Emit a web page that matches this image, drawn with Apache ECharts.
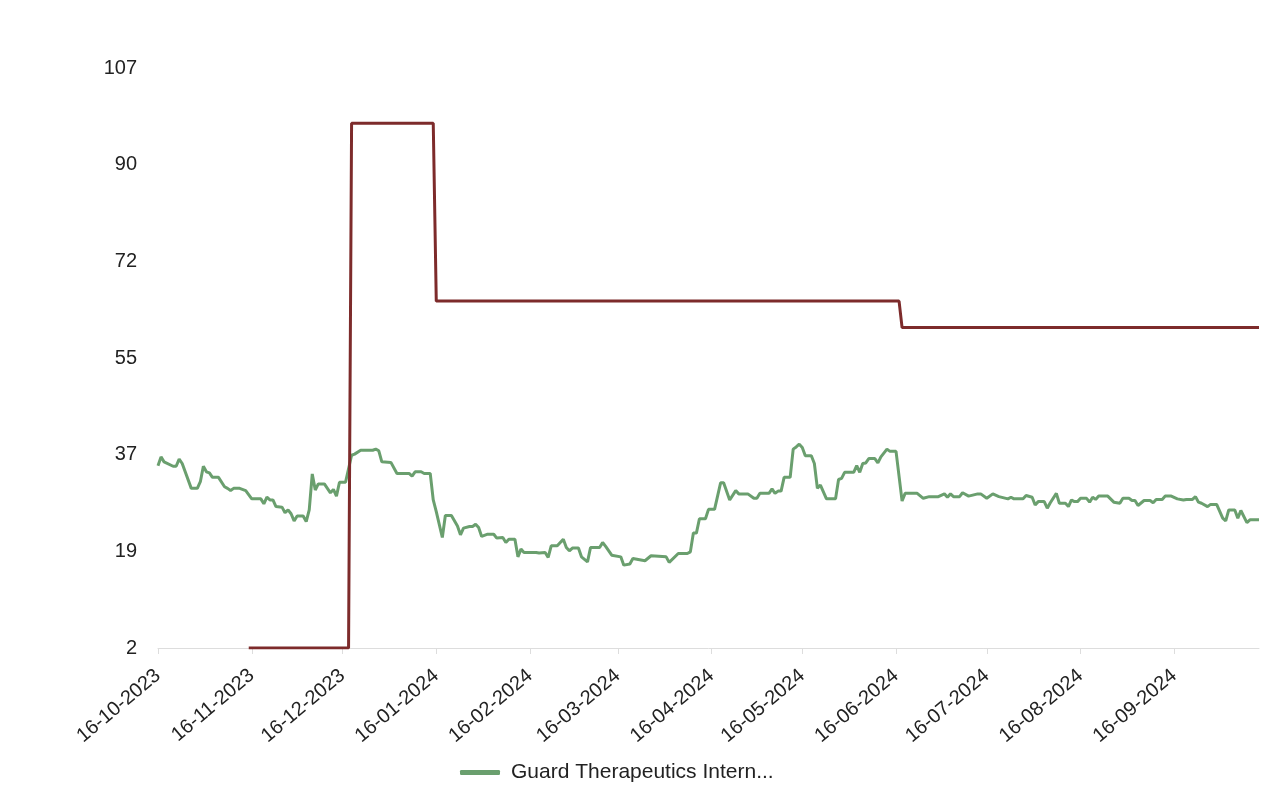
<!DOCTYPE html>
<html>
<head>
<meta charset="utf-8">
<script src="https://cdn.jsdelivr.net/npm/echarts@6/dist/echarts.min.js"></script>
<style>
html,body{margin:0;padding:0;background:#fff;}
#chart{width:1284px;height:789px;}
</style>
</head>
<body>
<div id="chart"></div>
<script>
// ---- data ----
const axisStart = '2023-10-16';
const axisEnd = '2024-10-14';

const yTickValues = [2, 19.5, 37, 54.5, 72, 89.5, 107];
const yTickLabels = ['2', '19', '37', '55', '72', '90', '107'];

const greenName = 'Guard Therapeutics International AB';
const greenDates = [
'2023-10-16','2023-10-17','2023-10-18','2023-10-21','2023-10-22','2023-10-23','2023-10-24','2023-10-27','2023-10-29','2023-10-30',
'2023-10-31','2023-11-01','2023-11-02','2023-11-03','2023-11-05','2023-11-07','2023-11-08','2023-11-09','2023-11-10','2023-11-12',
'2023-11-14','2023-11-16','2023-11-19','2023-11-20','2023-11-21','2023-11-22','2023-11-23','2023-11-24','2023-11-26','2023-11-27',
'2023-11-28','2023-11-29','2023-11-30','2023-12-01','2023-12-03','2023-12-04','2023-12-05','2023-12-06','2023-12-07','2023-12-08',
'2023-12-10','2023-12-12','2023-12-13','2023-12-14','2023-12-15','2023-12-17','2023-12-19','2023-12-20','2023-12-22','2023-12-26',
'2023-12-27','2023-12-28','2023-12-29','2024-01-01','2024-01-03','2024-01-07','2024-01-08','2024-01-09','2024-01-11','2024-01-12',
'2024-01-14','2024-01-15','2024-01-16','2024-01-18','2024-01-19','2024-01-21','2024-01-23','2024-01-24','2024-01-25','2024-01-27',
'2024-01-28','2024-01-29','2024-01-30','2024-01-31','2024-02-02','2024-02-04','2024-02-05','2024-02-07','2024-02-08','2024-02-09',
'2024-02-11','2024-02-12','2024-02-13','2024-02-14','2024-02-18','2024-02-19','2024-02-21','2024-02-22','2024-02-23','2024-02-25',
'2024-02-27','2024-02-28','2024-02-29','2024-03-01','2024-03-03','2024-03-04','2024-03-06','2024-03-07','2024-03-10','2024-03-11',
'2024-03-12','2024-03-14','2024-03-17','2024-03-18','2024-03-20','2024-03-21','2024-03-25','2024-03-27','2024-04-01','2024-04-02',
'2024-04-05','2024-04-08','2024-04-09','2024-04-10','2024-04-11','2024-04-12','2024-04-14','2024-04-15','2024-04-17','2024-04-19',
'2024-04-20','2024-04-22','2024-04-24','2024-04-25','2024-04-28','2024-04-30','2024-05-01','2024-05-02','2024-05-05','2024-05-06',
'2024-05-07','2024-05-08','2024-05-09','2024-05-10','2024-05-12','2024-05-13','2024-05-14','2024-05-15','2024-05-16','2024-05-17',
'2024-05-19','2024-05-20','2024-05-21','2024-05-22','2024-05-24','2024-05-27','2024-05-28','2024-05-29','2024-05-30','2024-06-02',
'2024-06-03','2024-06-04','2024-06-05','2024-06-06','2024-06-07','2024-06-09','2024-06-10','2024-06-11','2024-06-13','2024-06-14',
'2024-06-16','2024-06-18','2024-06-19','2024-06-23','2024-06-25','2024-06-27','2024-06-30','2024-07-02','2024-07-03','2024-07-04',
'2024-07-05','2024-07-07','2024-07-08','2024-07-10','2024-07-13','2024-07-14','2024-07-16','2024-07-18','2024-07-20','2024-07-23',
'2024-07-24','2024-07-25','2024-07-28','2024-07-29','2024-07-31','2024-08-01','2024-08-02','2024-08-04','2024-08-05','2024-08-06',
'2024-08-08','2024-08-09','2024-08-11','2024-08-12','2024-08-13','2024-08-14','2024-08-15','2024-08-16','2024-08-18','2024-08-19',
'2024-08-20','2024-08-21','2024-08-22','2024-08-25','2024-08-27','2024-08-29','2024-08-30','2024-09-01','2024-09-02','2024-09-03',
'2024-09-04','2024-09-06','2024-09-08','2024-09-09','2024-09-10','2024-09-12','2024-09-13','2024-09-15','2024-09-17','2024-09-19',
'2024-09-20','2024-09-22','2024-09-23','2024-09-24','2024-09-25','2024-09-27','2024-09-28','2024-09-30','2024-10-02','2024-10-03',
'2024-10-04','2024-10-06','2024-10-07','2024-10-08','2024-10-10','2024-10-11','2024-10-14'
];
const greenValues = [
35.0,36.6,35.7,34.9,34.9,36.2,35.4,30.9,30.9,32.1,
34.9,33.9,33.7,32.9,32.9,31.2,30.9,30.5,30.9,30.9,
30.5,29.0,29.0,28.1,29.3,28.8,28.8,27.6,27.5,26.5,
27.0,26.3,25.0,25.9,25.9,24.9,27.0,33.5,30.6,31.7,
31.7,30.1,30.7,29.5,32.0,32.0,36.9,37.1,37.8,37.8,
38.0,37.7,35.7,35.6,33.6,33.6,33.1,33.9,33.9,33.6,
33.6,28.8,26.7,22.0,26.0,26.0,24.1,22.5,23.7,24.0,
24.0,24.4,23.8,22.2,22.6,22.6,21.9,22.0,21.1,21.7,
21.7,18.5,19.9,19.3,19.3,19.2,19.3,18.4,20.5,20.5,
21.7,20.2,19.6,20.1,20.1,18.5,17.6,20.2,20.2,21.1,
20.4,18.8,18.5,17.0,17.2,18.2,17.8,18.7,18.5,17.5,
19.1,19.1,19.4,22.8,22.8,25.4,25.4,27.1,27.1,31.9,
31.9,28.8,30.5,29.9,29.9,29.1,29.1,30.0,30.0,30.8,
30.0,30.4,30.4,32.9,32.9,38.0,38.4,38.9,38.3,36.8,
36.8,35.4,30.9,31.5,29.0,29.0,32.5,32.7,33.8,33.8,
35.0,33.8,35.4,35.5,36.3,36.3,35.5,36.6,38.0,37.6,
37.6,28.6,30.0,30.0,29.1,29.4,29.4,29.9,29.3,29.9,
29.4,29.4,30.1,29.5,29.9,29.9,29.1,29.9,29.4,29.0,
29.3,29.0,29.0,29.6,29.3,27.9,28.5,28.5,27.3,28.3,
30.0,28.2,28.2,27.6,28.8,28.5,28.5,29.1,29.1,28.4,
29.3,28.9,29.5,29.5,28.4,28.2,29.1,29.1,28.7,28.7,
27.8,28.7,28.7,28.3,28.9,28.9,29.5,29.5,29.0,28.8,
28.9,28.9,29.4,28.4,28.2,27.6,28.0,28.0,25.5,25.0,
27.0,27.0,25.5,26.9,24.7,25.2,25.2
];

const redName = 'Target';
const redDates = ['2023-11-15','2023-12-18','2023-12-19','2024-01-15','2024-01-16','2024-06-17','2024-06-18','2024-10-14'];
const redValues = [2, 2, 97, 97, 64.8, 64.8, 60, 60];

// ---- build calendar-day categories ----
function buildDays(a, b) {
  const out = [];
  let t = Date.UTC(+a.slice(0,4), +a.slice(5,7)-1, +a.slice(8,10));
  const end = Date.UTC(+b.slice(0,4), +b.slice(5,7)-1, +b.slice(8,10));
  while (t <= end) {
    out.push(new Date(t).toISOString().slice(0,10));
    t += 86400000;
  }
  return out;
}
const categories = buildDays(axisStart, axisEnd);
const pair = (ds, vs) => ds.map((d, i) => [d, vs[i]]);
const isSixteenth = (idx, val) => String(val).slice(8, 10) === '16';
const FONT = 'Liberation Sans, Arial, sans-serif';

const chart = echarts.init(document.getElementById('chart'), null, {renderer: 'canvas'});
chart.setOption({
  animation: false,
  backgroundColor: '#ffffff',
  textStyle: {fontFamily: FONT},
  grid: {left: 158, right: 25, top: 68, bottom: 141, containLabel: false},
  legend: {
    data: [greenName],
    left: 455,
    top: 757,
    icon: 'roundRect',
    itemWidth: 40,
    itemHeight: 5,
    formatter: n => n.length > 25 ? n.slice(0, 25) + '...' : n,
    textStyle: {fontSize: 21, color: '#222', fontFamily: FONT, padding: [0, 0, 0, 6]}
  },
  xAxis: {
    type: 'category',
    data: categories,
    boundaryGap: false,
    axisLine: {show: true, lineStyle: {color: '#dddddd', width: 1}},
    axisTick: {show: true, interval: isSixteenth, length: 6, lineStyle: {color: '#dddddd'}},
    axisLabel: {
      interval: isSixteenth,
      rotate: 40,
      margin: 25,
      fontSize: 20,
      color: '#222',
      fontFamily: FONT,
      formatter: v => v.slice(8,10) + '-' + v.slice(5,7) + '-' + v.slice(0,4)
    },
    splitLine: {show: false}
  },
  yAxis: {
    type: 'value',
    min: 2,
    max: 107,
    interval: 17.5,
    axisLine: {show: false},
    axisTick: {show: false},
    splitLine: {show: false},
    axisLabel: {
      margin: 21,
      fontSize: 20,
      color: '#222',
      fontFamily: FONT,
      formatter: v => {
        let best = 0;
        yTickValues.forEach((t, i) => { if (Math.abs(t - v) < Math.abs(yTickValues[best] - v)) best = i; });
        return yTickLabels[best];
      }
    }
  },
  series: [
    {
      name: greenName,
      type: 'line',
      data: pair(greenDates, greenValues),
      showSymbol: false,
      symbol: 'none',
      lineStyle: {width: 3, color: '#6a9f6e'},
      itemStyle: {color: '#6a9f6e'},
      z: 2
    },
    {
      name: redName,
      type: 'line',
      data: pair(redDates, redValues),
      showSymbol: false,
      symbol: 'none',
      lineStyle: {width: 3, color: '#7d2b2b'},
      itemStyle: {color: '#7d2b2b'},
      z: 3
    }
  ]
});
</script>
</body>
</html>
